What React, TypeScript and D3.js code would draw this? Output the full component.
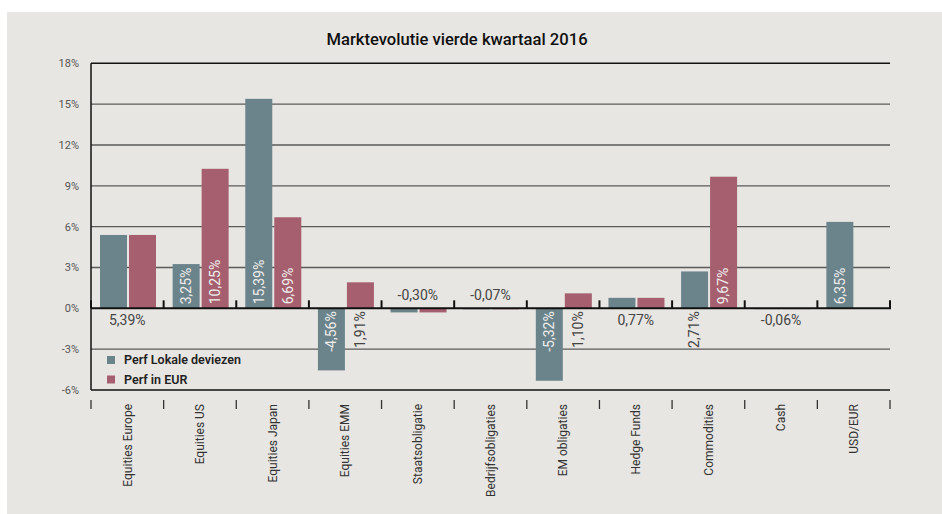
import * as React from 'react';
import * as d3 from 'd3';

const categories = [
  'Equities Europe',
  'Equities US',
  'Equities Japan',
  'Equities EMM',
  'Staatsobligatie',
  'Bedrijfsobligaties',
  'EM obligaties',
  'Hedge Funds',
  'Commodities',
  'Cash',
  'USD/EUR'
];
const lokaal = [5.39, 3.25, 15.39, -4.56, -0.3, -0.07, -5.32, 0.77, 2.71, -0.06, 6.35];
const inEur = [5.39, 10.25, 6.69, 1.91, -0.3, -0.07, 1.1, 0.77, 9.67, -0.06, 0];
const seriesNames = ['Perf Lokale deviezen', 'Perf in EUR'];
const yTicks = [-6, -3, 0, 3, 6, 9, 12, 15, 18];

const COLORS = ['#6b838b', '#a65f6f'];
const FONT = 'Roboto, sans-serif';
// shared labels that sit above the zero line in the original
const LABEL_ABOVE = ['Staatsobligatie', 'Bedrijfsobligaties'];

const fmt = (v: number) => v.toFixed(2).replace('.', ',') + '%';

const App = () => {
  const W = 942;
  const H = 514;
  const left = 91;
  const right = 890;

  const x = d3.scaleBand<string>().domain(categories).range([left, right]).padding(0);
  const sub = d3.scaleBand<number>().domain([0, 1]).range([9, 65]).paddingInner(2 / 29);
  const y = d3.scaleLinear().domain([-6, 18]).range([390, 63.3]);
  const y0 = y(0);

  const series = [lokaal, inEur];

  return (
    <div style={{ position: 'absolute', left: 0, top: 0 }}>
      <svg width={W} height={H} style={{ display: 'block', fontFamily: FONT }}>
        <rect x={7} y={12} width={W - 7} height={H - 12} fill="#e8e6e2" />
        <text x={457} y={45} textAnchor="middle" fontSize={16.6} fontWeight={500} fill="#111">
          Marktevolutie vierde kwartaal 2016
        </text>

        {/* grid */}
        {yTicks.map(t => (
          <g key={t}>
            {t !== 0 && (
              <line
                x1={left}
                x2={right}
                y1={y(t)}
                y2={y(t)}
                stroke={t === 18 || t === -6 ? '#111' : '#5a5a5a'}
                strokeWidth={t === 18 || t === -6 ? 1.5 : 1.3}
              />
            )}
            <text x={79} y={y(t)} dy="0.35em" textAnchor="end" fontSize={11} fill="#555">
              {t}%
            </text>
          </g>
        ))}

        {/* bars */}
        {categories.map((c, i) => (
          <g key={c} transform={`translate(${x(c)},0)`}>
            {series.map((s, j) => {
              const v = s[i];
              if (v === 0) return null;
              return (
                <rect
                  key={j}
                  x={sub(j)}
                  width={sub.bandwidth()}
                  y={Math.min(y(v), y0)}
                  height={Math.abs(y(v) - y0)}
                  fill={COLORS[j]}
                />
              );
            })}
          </g>
        ))}

        {/* axes */}
        <line x1={left} x2={left} y1={y(18)} y2={y(-6)} stroke="#111" strokeWidth={1.5} />
        <line x1={left} x2={right + 1} y1={y0} y2={y0} stroke="#111" strokeWidth={2} />
        {d3.range(categories.length + 1).map(k => {
          const tx = left + k * x.step();
          return (
            <g key={k}>
              <line x1={tx} x2={tx} y1={y0} y2={y0 - 8} stroke="#111" strokeWidth={2} />
              <line x1={tx} x2={tx} y1={400} y2={409} stroke="#333" strokeWidth={1.3} />
            </g>
          );
        })}

        {/* value labels */}
        {categories.map((c, i) => {
          const cx = (x(c) as number) + x.bandwidth() / 2;
          const a = lokaal[i];
          const b = inEur[i];
          if (a === b) {
            return (
              <text
                key={c}
                x={cx}
                y={LABEL_ABOVE.includes(c) ? y0 - 13 : y0 + 12}
                dy="0.35em"
                textAnchor="middle"
                fontSize={14}
                fill="#444"
              >
                {fmt(a)}
              </text>
            );
          }
          return (
            <g key={c}>
              {[a, b].map((v, j) => {
                if (v === 0) return null;
                const bx = (x(c) as number) + (sub(j) as number) + sub.bandwidth() / 2;
                const inside = Math.abs(v) >= 3;
                const ty = v > 0 && inside ? y0 - 4 : y0 + 3;
                return (
                  <text
                    key={j}
                    transform={`translate(${bx},${ty}) rotate(-90)`}
                    dy="0.35em"
                    textAnchor={v > 0 && inside ? 'start' : 'end'}
                    fontSize={14}
                    fill={inside ? '#efeeec' : '#444'}
                  >
                    {fmt(v)}
                  </text>
                );
              })}
            </g>
          );
        })}

        {/* category labels */}
        {categories.map(c => (
          <text
            key={c}
            transform={`translate(${(x(c) as number) + x.bandwidth() / 2},404) rotate(-90)`}
            dy="0.35em"
            textAnchor="end"
            fontSize={12}
            fill="#333"
          >
            {c}
          </text>
        ))}

        {/* legend */}
        {seriesNames.map((n, j) => (
          <g key={n} transform={`translate(107,${356 + j * 19.5})`}>
            <rect width={8} height={8} fill={COLORS[j]} />
            <text x={17} y={4} dy="0.35em" fontSize={12.5} fontWeight={600} fill="#222">
              {n}
            </text>
          </g>
        ))}
      </svg>
    </div>
  );
};

export default App;
